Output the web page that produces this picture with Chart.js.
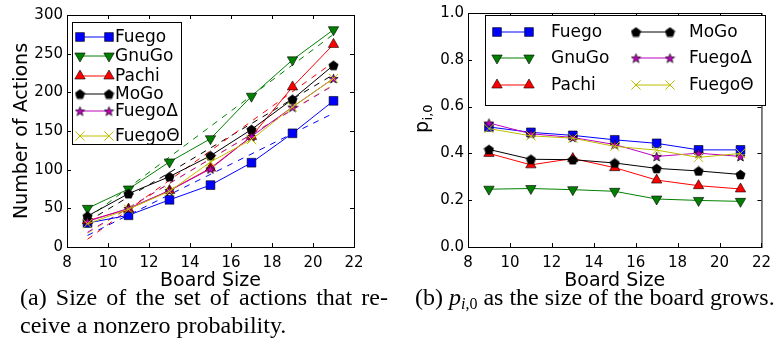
<!DOCTYPE html>
<html>
<head>
<meta charset="utf-8">
<script src="https://cdn.jsdelivr.net/npm/chart.js@4.4.0/dist/chart.umd.min.js"></script>
<style>
  body { margin: 0; background: #fff; width: 778px; height: 360px; overflow: hidden; position: relative; }
  .panel { position: absolute; top: 0; width: 389px; height: 292px; }
  #panelA { left: 0; }
  #panelB { left: 389px; }
  .caption { position: absolute; font-family: 'Liberation Serif', serif; font-size: 24px; line-height: 28px; color: #000; }
  #capA { left: 20px; top: 283px; width: 368px; }
  #capA .first { text-align: justify; text-align-last: justify; white-space: nowrap; }
  #capB { left: 415px; top: 283px; white-space: nowrap; }
  #capB sub { font-size: 16px; vertical-align: -4px; line-height: 0; }
</style>
</head>
<body>
<div class="panel" id="panelA"><canvas id="actionsChart" width="389" height="292"></canvas></div>
<div class="panel" id="panelB"><canvas id="probChart" width="389" height="292"></canvas></div>
<div class="caption" id="capA"><div class="first">(a) Size of the set of actions that re-</div><div>ceive a nonzero probability.</div></div>
<div class="caption" id="capB">(b) <i>p</i><sub><i>i</i>,0</sub> as the size of the board grows.</div>

<script>
// board sizes on the x axis
const boardSizes = [9, 11, 13, 15, 17, 19, 21];
const xTicks = [8, 10, 12, 14, 16, 18, 20, 22];

// (a) number of actions with nonzero probability
const actionsFuego = [31, 41, 61, 80, 109, 147, 189];
const actionsGnuGo = [50, 75, 110, 140, 195, 242, 281];
const actionsPachi = [34, 49, 73, 102, 143, 207, 262];
const actionsMoGo = [40, 69, 91, 118, 152, 191, 235];
const actionsFuegoD = [33, 50, 73, 101, 143, 181, 218];
const actionsFuegoT = [30, 49, 72, 110, 139, 181, 218];

// (a) dashed fit lines, value at the first and last board size
const fitSizes = [9, 21];
const fitFuego = [15, 173];
const fitGnuGo = [37, 275];
const fitPachi = [10, 239];
const fitMoGo = [33, 223];
const fitFuegoD = [19, 209];
const fitFuegoT = [18, 210];

// (b) p_{i,0}
const probFuego = [0.513, 0.490, 0.477, 0.458, 0.443, 0.415, 0.415];
const probGnuGo = [0.247, 0.250, 0.245, 0.238, 0.205, 0.199, 0.195];
const probPachi = [0.400, 0.351, 0.378, 0.339, 0.286, 0.262, 0.248];
const probMoGo = [0.417, 0.375, 0.373, 0.359, 0.336, 0.325, 0.310];
const probFuegoD = [0.530, 0.484, 0.468, 0.438, 0.387, 0.401, 0.387];
const probFuegoT = [0.506, 0.475, 0.465, 0.430, 0.414, 0.383, 0.400];

Chart.defaults.font.family = "'DejaVu Sans', sans-serif";
Chart.defaults.color = '#000';

// filled marker shapes that Chart.js does not have
function makeMarker(kind, fill, size) {
    const c = document.createElement('canvas');
    c.width = size;
    c.height = size;
    const g = c.getContext('2d');
    const cx = size / 2, cy = size / 2, r = size / 2 - 0.6;
    g.beginPath();
    if (kind === 'pentagon') {
        for (let k = 0; k < 5; k++) {
            const a = -Math.PI / 2 + k * 2 * Math.PI / 5;
            g.lineTo(cx + r * Math.cos(a), cy + r * Math.sin(a) + 0.5);
        }
    } else {
        for (let k = 0; k < 10; k++) {
            const a = -Math.PI / 2 + k * Math.PI / 5;
            const rr = k % 2 === 0 ? r : r * 0.42;
            g.lineTo(cx + rr * Math.cos(a), cy + rr * Math.sin(a) + 0.6);
        }
    }
    g.closePath();
    g.fillStyle = fill;
    g.fill();
    g.lineWidth = 0.7;
    g.strokeStyle = '#000';
    g.stroke();
    return c;
}

const pentagon = makeMarker('pentagon', '#000', 11);
const star = makeMarker('star', '#bf00bf', 11);

const styles = {
    Fuego:  { color: '#0000ff', fill: '#0000ff', pointStyle: 'rect', radius: 6.2, rotation: 0 },
    GnuGo:  { color: '#008000', fill: '#008000', pointStyle: 'triangle', radius: 6, rotation: 180 },
    Pachi:  { color: '#ff0000', fill: '#ff0000', pointStyle: 'triangle', radius: 6, rotation: 0 },
    MoGo:   { color: '#000000', fill: '#000000', pointStyle: pentagon, radius: 5, rotation: 0 },
    'FuegoΔ': { color: '#bf00bf', fill: '#bf00bf', pointStyle: star, radius: 5, rotation: 0 },
    'FuegoΘ': { color: '#bfbf00', fill: '#bfbf00', pointStyle: 'crossRot', radius: 6.5, rotation: 0 }
};

function toPoints(xs, ys) {
    return xs.map((x, i) => ({ x: x, y: ys[i] }));
}

function seriesDataset(label, values, order) {
    const s = styles[label];
    const cross = s.pointStyle === 'crossRot';
    return {
        label: label,
        data: toPoints(boardSizes, values),
        borderColor: s.color,
        borderWidth: 1,
        pointStyle: s.pointStyle,
        pointRadius: s.radius,
        pointRotation: s.rotation,
        pointBackgroundColor: s.fill,
        pointBorderColor: cross ? s.color : '#000',
        pointBorderWidth: cross ? 1 : 0.6,
        order: order
    };
}

function fitDataset(label, values) {
    return {
        label: label + ' fit',
        isFit: true,
        data: toPoints(fitSizes, values),
        borderColor: styles[label].color,
        borderWidth: 1,
        borderDash: [6, 6],
        pointRadius: 0,
        order: 20
    };
}

// frame with inward ticks on all four sides
const framePlugin = {
    id: 'frame',
    afterDraw(chart) {
        const { ctx, chartArea: a, scales } = chart;
        const len = 4;
        ctx.save();
        ctx.strokeStyle = '#000';
        ctx.lineWidth = 1;
        ctx.strokeRect(a.left + 0.5, a.top + 0.5, a.right - a.left, a.bottom - a.top);
        ctx.beginPath();
        scales.x.ticks.forEach(t => {
            const px = Math.round(scales.x.getPixelForValue(t.value)) + 0.5;
            ctx.moveTo(px, a.bottom); ctx.lineTo(px, a.bottom - len);
            ctx.moveTo(px, a.top); ctx.lineTo(px, a.top + len);
        });
        scales.y.ticks.forEach(t => {
            const py = Math.round(scales.y.getPixelForValue(t.value)) + 0.5;
            ctx.moveTo(a.left, py); ctx.lineTo(a.left + len, py);
            ctx.moveTo(a.right, py); ctx.lineTo(a.right - len, py);
        });
        ctx.stroke();
        ctx.restore();
    }
};

// matplotlib-like legend box drawn inside the plot
const boxLegendPlugin = {
    id: 'boxLegend',
    afterDraw(chart, args, opts) {
        if (!opts || !opts.box) return;
        const ctx = chart.ctx;
        const b = opts.box;
        ctx.save();
        ctx.fillStyle = '#fff';
        ctx.fillRect(b.x, b.y, b.w, b.h);
        ctx.strokeStyle = '#000';
        ctx.lineWidth = 1;
        ctx.strokeRect(b.x + 0.5, b.y + 0.5, b.w, b.h);
        const series = chart.data.datasets.filter(d => !d.isFit);
        series.forEach((ds, i) => {
            const e = opts.entries[i];
            ctx.strokeStyle = ds.borderColor;
            ctx.lineWidth = 1;
            ctx.beginPath();
            ctx.moveTo(e.x0, e.y);
            ctx.lineTo(e.x1, e.y);
            ctx.stroke();
            ctx.fillStyle = ds.pointBackgroundColor;
            ctx.strokeStyle = ds.pointBorderColor;
            ctx.lineWidth = ds.pointBorderWidth;
            [e.x0, e.x1].forEach(px => {
                Chart.helpers.drawPoint(ctx, {
                    pointStyle: ds.pointStyle,
                    radius: ds.pointRadius,
                    rotation: ds.pointRotation,
                    borderWidth: ds.pointBorderWidth
                }, px, e.y);
            });
            ctx.fillStyle = '#000';
            ctx.font = opts.fontSize + "px 'DejaVu Sans'";
            ctx.textBaseline = 'middle';
            ctx.textAlign = 'left';
            ctx.fillText(ds.label, e.tx, e.y + 1);
        });
        ctx.restore();
    }
};

// y title p_{i,0} with subscript for panel (b)
const subTitlePlugin = {
    id: 'subTitle',
    afterDraw(chart, args, opts) {
        if (!opts || !opts.x) return;
        const ctx = chart.ctx;
        ctx.save();
        ctx.translate(opts.x, opts.y);
        ctx.rotate(-Math.PI / 2);
        ctx.fillStyle = '#000';
        ctx.textBaseline = 'alphabetic';
        ctx.textAlign = 'left';
        ctx.font = "19px 'DejaVu Sans'";
        ctx.fillText('p', 0, 0);
        const w = ctx.measureText('p').width;
        ctx.font = "13px 'DejaVu Sans'";
        ctx.fillText('i,0', w + 0.5, 4);
        ctx.restore();
    }
};

function xAxis() {
    return {
        type: 'linear',
        min: 8,
        max: 22,
        afterBuildTicks(scale) { scale.ticks = xTicks.map(v => ({ value: v })); },
        ticks: { padding: 7, font: { size: 15 } },
        grid: { display: false, drawTicks: false },
        border: { display: false },
        title: { display: true, text: 'Board Size', font: { size: 19 }, padding: { top: 0, bottom: 0 } },
        afterFit(scale) { scale.height = 45; }
    };
}

function initActionsChart() {
    const ctx = document.getElementById('actionsChart').getContext('2d');
    new Chart(ctx, {
        type: 'line',
        data: {
            datasets: [
                seriesDataset('Fuego', actionsFuego, 6),
                seriesDataset('GnuGo', actionsGnuGo, 5),
                seriesDataset('Pachi', actionsPachi, 4),
                seriesDataset('MoGo', actionsMoGo, 3),
                seriesDataset('FuegoΔ', actionsFuegoD, 2),
                seriesDataset('FuegoΘ', actionsFuegoT, 1),
                fitDataset('Fuego', fitFuego),
                fitDataset('GnuGo', fitGnuGo),
                fitDataset('Pachi', fitPachi),
                fitDataset('MoGo', fitMoGo),
                fitDataset('FuegoΔ', fitFuegoD),
                fitDataset('FuegoΘ', fitFuegoT)
            ]
        },
        options: {
            responsive: false,
            animation: false,
            layout: { padding: { top: 15, right: 35, bottom: 0, left: 0 } },
            plugins: {
                legend: { display: false },
                tooltip: { enabled: false },
                boxLegend: {
                    fontSize: 17,
                    box: { x: 72, y: 22, w: 109, h: 122 },
                    entries: [
                        { x0: 80, x1: 109, tx: 115, y: 37 },
                        { x0: 80, x1: 109, tx: 115, y: 56 },
                        { x0: 80, x1: 109, tx: 115, y: 76 },
                        { x0: 80, x1: 109, tx: 115, y: 94 },
                        { x0: 80, x1: 109, tx: 115, y: 111 },
                        { x0: 80, x1: 109, tx: 115, y: 136 }
                    ]
                }
            },
            scales: {
                x: xAxis(),
                y: {
                    min: 0,
                    max: 300,
                    ticks: { stepSize: 50, padding: 4, font: { size: 15 } },
                    grid: { display: false, drawTicks: false },
                    border: { display: false },
                    title: { display: true, text: 'Number of Actions', font: { size: 19 }, padding: { top: 11, bottom: 0 } },
                    afterFit(scale) { scale.width = 67; }
                }
            }
        },
        plugins: [framePlugin, boxLegendPlugin]
    });
}

function initProbChart() {
    const ctx = document.getElementById('probChart').getContext('2d');
    new Chart(ctx, {
        type: 'line',
        data: {
            datasets: [
                seriesDataset('Fuego', probFuego, 6),
                seriesDataset('GnuGo', probGnuGo, 5),
                seriesDataset('Pachi', probPachi, 4),
                seriesDataset('MoGo', probMoGo, 3),
                seriesDataset('FuegoΔ', probFuegoD, 2),
                seriesDataset('FuegoΘ', probFuegoT, 1)
            ]
        },
        options: {
            responsive: false,
            animation: false,
            layout: { padding: { top: 5, right: 11, bottom: 0, left: 0 } },
            plugins: {
                legend: { display: false },
                tooltip: { enabled: false },
                boxLegend: {
                    fontSize: 17,
                    box: { x: 96, y: 15, w: 280, h: 90 },
                    entries: [
                        { x0: 108, x1: 140, tx: 162, y: 32 },
                        { x0: 108, x1: 140, tx: 162, y: 58 },
                        { x0: 108, x1: 140, tx: 162, y: 85 },
                        { x0: 247, x1: 281, tx: 300, y: 32 },
                        { x0: 247, x1: 281, tx: 300, y: 58 },
                        { x0: 247, x1: 281, tx: 300, y: 85 }
                    ]
                },
                subTitle: { x: 39, y: 133 }
            },
            scales: {
                x: xAxis(),
                y: {
                    min: 0,
                    max: 1,
                    ticks: { stepSize: 0.2, padding: 4, font: { size: 15 }, callback: v => v.toFixed(1) },
                    grid: { display: false, drawTicks: false },
                    border: { display: false },
                    title: { display: false },
                    afterFit(scale) { scale.width = 79; }
                }
            }
        },
        plugins: [framePlugin, boxLegendPlugin, subTitlePlugin]
    });
}

document.addEventListener('DOMContentLoaded', function() {
    initActionsChart();
    initProbChart();
});
</script>
</body>
</html>
